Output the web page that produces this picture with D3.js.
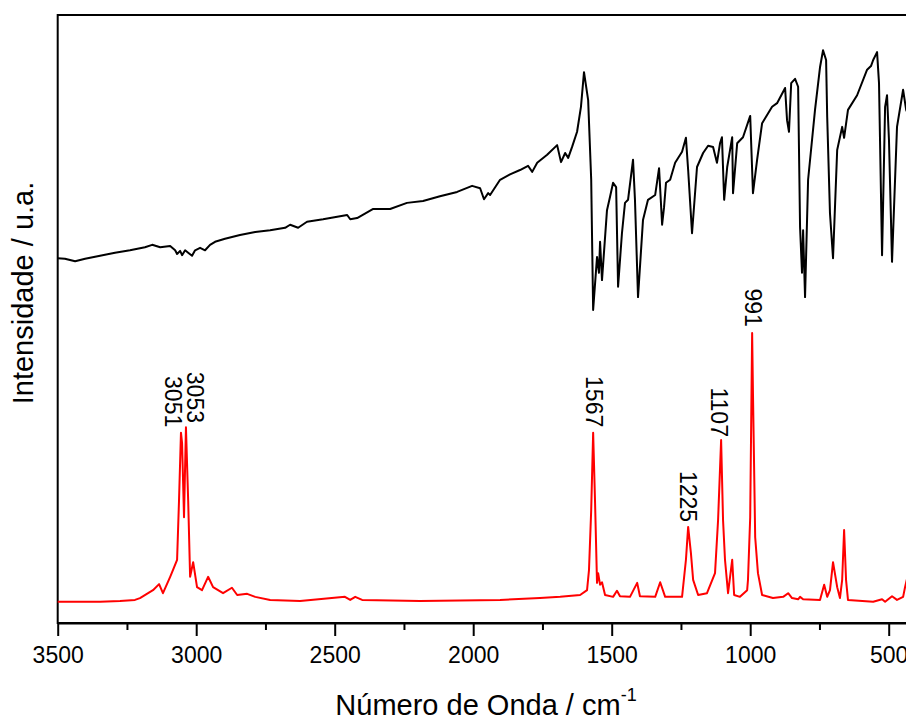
<!DOCTYPE html>
<html>
<head>
<meta charset="utf-8">
<script src="https://cdn.jsdelivr.net/npm/d3@7"></script>
<style>
  body { margin: 0; background: #fff; }
  svg { display: block; font-family: "Liberation Sans", Arial, sans-serif; }
</style>
</head>
<body>
<svg id="chart"></svg>
<script>
// IR spectrum (black), [wavenumber cm-1, intensity a.u.]
const irSpectrum = [
  [3500, 60.0], [3474, 59.9], [3437, 59.5], [3401, 59.9], [3347, 60.4], [3293, 60.9],
  [3239, 61.3], [3185, 61.8], [3159, 62.2], [3130, 61.8], [3094, 62.0], [3076, 61.3],
  [3069, 60.7], [3058, 61.2], [3051, 60.5], [3040, 61.3], [3029, 60.9], [3015, 60.4],
  [3004, 61.3], [2986, 61.7], [2968, 61.3], [2950, 62.2], [2932, 62.7], [2896, 63.2],
  [2842, 63.8], [2787, 64.3], [2733, 64.6], [2679, 65.0], [2661, 65.5], [2632, 65.0],
  [2600, 66.0], [2542, 66.4], [2455, 67.1], [2444, 66.4], [2419, 66.6], [2361, 68.1],
  [2300, 68.1], [2239, 69.1], [2181, 69.4], [2120, 70.2], [2058, 70.9], [2004, 71.9],
  [1975, 71.5], [1961, 69.7], [1946, 70.7], [1939, 70.4], [1903, 72.9], [1867, 73.8],
  [1831, 74.5], [1802, 75.2], [1787, 74.2], [1769, 75.7], [1733, 77.0], [1697, 78.6],
  [1683, 75.8], [1668, 77.3], [1657, 76.5], [1643, 78.3], [1625, 80.8], [1611, 84.9],
  [1600, 90.6], [1585, 86.0], [1574, 72.9], [1567, 51.5], [1553, 60.2], [1546, 57.6],
  [1542, 62.7], [1535, 56.4], [1517, 67.9], [1506, 70.1], [1495, 72.4], [1484, 71.7],
  [1477, 55.3], [1463, 64.1], [1452, 69.1], [1441, 69.6], [1423, 76.2], [1416, 69.6],
  [1405, 53.6], [1387, 66.3], [1369, 69.6], [1343, 70.4], [1329, 74.8], [1318, 65.5],
  [1311, 68.4], [1304, 72.4], [1289, 72.9], [1271, 75.7], [1246, 77.5], [1232, 79.8],
  [1224, 74.5], [1210, 64.1], [1192, 75.0], [1170, 77.3], [1152, 78.5], [1134, 78.3],
  [1120, 75.7], [1109, 78.9], [1102, 79.9], [1094, 69.6], [1083, 75.0], [1065, 79.9],
  [1062, 70.7], [1047, 78.9], [1026, 79.9], [1000, 83.4], [990, 70.7], [975, 76.2],
  [957, 82.2], [921, 84.9], [903, 85.5], [874, 88.0], [867, 82.7], [860, 80.8],
  [852, 88.8], [838, 89.5], [827, 88.2], [820, 65.1], [813, 57.6], [809, 64.6],
  [802, 53.6], [791, 72.9], [766, 84.4], [748, 91.4], [737, 94.2], [726, 92.6],
  [722, 83.2], [712, 67.4], [701, 60.0], [686, 77.8], [668, 81.6], [661, 79.8],
  [647, 84.4], [614, 86.8], [578, 91.0], [564, 91.6], [556, 92.6], [542, 93.9],
  [535, 88.8], [524, 60.5], [513, 84.9], [506, 86.8], [499, 79.4], [488, 59.4],
  [470, 81.6], [448, 87.7], [437, 84.4], [415, 82.0]
];

// Raman spectrum (red), [wavenumber cm-1, intensity a.u.]
const ramanSpectrum = [
  [3500, 3.5], [3347, 3.5], [3275, 3.6], [3221, 3.8], [3203, 4.1], [3156, 5.4],
  [3134, 6.4], [3120, 4.9], [3094, 7.6], [3084, 8.7], [3069, 10.4], [3062, 20.2],
  [3055, 31.3], [3051, 29.6], [3044, 17.4], [3037, 32.2], [3029, 20.2], [3022, 7.6],
  [3011, 10.0], [2997, 5.9], [2979, 5.4], [2957, 7.6], [2939, 5.9], [2903, 4.9],
  [2871, 5.8], [2852, 4.6], [2816, 4.8], [2787, 4.3], [2733, 3.8], [2625, 3.6],
  [2463, 4.3], [2444, 3.8], [2426, 4.3], [2401, 3.8], [2192, 3.6], [1903, 3.8],
  [1759, 4.1], [1686, 4.3], [1614, 4.6], [1589, 5.4], [1582, 8.7], [1574, 18.6],
  [1567, 31.3], [1560, 19.7], [1553, 6.6], [1549, 8.2], [1542, 6.3], [1535, 6.7],
  [1524, 4.6], [1495, 4.3], [1481, 5.3], [1470, 4.4], [1434, 4.3], [1408, 6.6],
  [1398, 4.4], [1343, 4.3], [1325, 6.7], [1307, 4.3], [1246, 4.3], [1232, 10.4],
  [1224, 15.8], [1214, 11.5], [1206, 7.1], [1188, 4.6], [1156, 4.9], [1127, 8.2],
  [1116, 16.9], [1105, 30.1], [1098, 16.9], [1091, 10.4], [1080, 4.9], [1065, 10.4],
  [1058, 4.6], [1037, 4.3], [1011, 5.4], [1008, 7.1], [1000, 17.4], [993, 47.7],
  [990, 37.8], [982, 14.1], [972, 8.2], [957, 4.6], [918, 4.1], [881, 4.3],
  [863, 4.9], [849, 4.1], [827, 3.9], [820, 4.3], [809, 3.9], [748, 3.8],
  [733, 6.3], [722, 4.3], [712, 5.4], [701, 10.0], [686, 5.9], [676, 4.1],
  [668, 7.1], [661, 15.3], [654, 7.1], [647, 3.8], [556, 3.5], [524, 3.9],
  [513, 3.5], [488, 4.4], [470, 3.8], [448, 4.3], [441, 5.9], [425, 9.0]
];

// peak annotations: text, wavenumber of label centre, intensity at label end
const peakLabels = [
  ["3051", 3084, 32.2],
  ["3053", 3004, 32.9],
  ["1567", 1564, 32.2],
  ["1225", 1224, 16.6],
  ["1107", 1112, 30.6],
  ["991", 990, 48.7]
];

const majorTicks = [3500, 3000, 2500, 2000, 1500, 1000, 500];
const minorTicks = [3250, 2750, 2250, 1750, 1250, 750];

const width = 906, height = 720;
const margin = { left: 57.7, top: 15, bottom: 623 };

const svg = d3.select("#chart").attr("width", width).attr("height", height);

const x = d3.scaleLinear().domain([3500, 400]).range([margin.left, 916.4]);
const y = d3.scaleLinear().domain([0, 100]).range([margin.bottom, margin.top]);

// frame (right side falls outside the picture)
svg.append("rect")
  .attr("x", x(3500)).attr("y", y(100))
  .attr("width", x(400) - x(3500)).attr("height", y(0) - y(100))
  .attr("fill", "none").attr("stroke", "#000").attr("stroke-width", 2);

const line = d3.line().x(d => x(d[0])).y(d => y(d[1]));

svg.append("path").datum(irSpectrum)
  .attr("d", line).attr("fill", "none")
  .attr("stroke", "#000").attr("stroke-width", 2).attr("stroke-linejoin", "round");

svg.append("path").datum(ramanSpectrum)
  .attr("d", line).attr("fill", "none")
  .attr("stroke", "#ff0000").attr("stroke-width", 2).attr("stroke-linejoin", "round");

// bottom axis
const xAxis = svg.append("g")
  .attr("transform", `translate(0,${margin.bottom})`)
  .call(d3.axisBottom(x).tickValues(majorTicks).tickFormat(d3.format("d"))
    .tickSize(13).tickSizeOuter(0).tickPadding(11));
xAxis.select(".domain").attr("stroke-width", 2);
xAxis.selectAll(".tick line").attr("stroke-width", 2);
xAxis.selectAll(".tick text")
  .attr("font-size", 23).attr("font-family", "Liberation Sans, Arial, sans-serif").attr("fill", "#000");

const xMinor = svg.append("g")
  .attr("transform", `translate(0,${margin.bottom})`)
  .call(d3.axisBottom(x).tickValues(minorTicks).tickFormat("").tickSize(7).tickSizeOuter(0));
xMinor.select(".domain").remove();
xMinor.selectAll(".tick line").attr("stroke-width", 2);

// peak labels, rotated to read downwards
svg.selectAll(".peak")
  .data(peakLabels)
  .enter().append("text")
  .attr("class", "peak")
  .attr("transform", d => `translate(${x(d[1])},${y(d[2])}) rotate(90)`)
  .attr("text-anchor", "end")
  .attr("dy", "0.36em")
  .attr("font-size", 23)
  .attr("fill", "#000")
  .text(d => d[0]);

// axis titles
const xTitle = svg.append("text")
  .attr("x", 486).attr("y", 715)
  .attr("text-anchor", "middle")
  .attr("font-size", 29)
  .attr("fill", "#000");
xTitle.append("tspan").text("Número de Onda / cm");
xTitle.append("tspan").attr("font-size", 18).attr("dy", -14).text("-1");

svg.append("text")
  .attr("transform", "translate(33,293) rotate(-90)")
  .attr("text-anchor", "middle")
  .attr("font-size", 29)
  .attr("fill", "#000")
  .text("Intensidade / u.a.");
</script>
</body>
</html>
